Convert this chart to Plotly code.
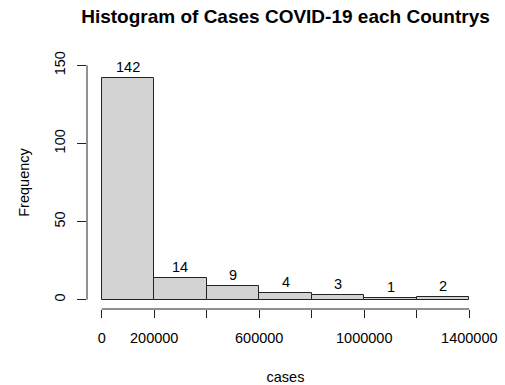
import plotly.graph_objects as go

# Data
bin_starts = [0, 200000, 400000, 600000, 800000, 1000000, 1200000]
bin_width = 200000
counts = [142, 14, 9, 4, 3, 1, 2]
x_tickvals = [0, 200000, 400000, 600000, 800000, 1000000, 1200000, 1400000]
x_ticktext = ["0", "200000", "", "600000", "", "1000000", "", "1400000"]
y_tickvals = [0, 50, 100, 150]
y_ticktext = ["0", "50", "100", "150"]

mids = [s + bin_width / 2 for s in bin_starts]
FONT = "Liberation Sans, Arial, Helvetica, sans-serif"
FS = 14.5
AX = "#222222"

fig = go.Figure()
fig.add_trace(go.Bar(
    x=mids, y=counts, width=[bin_width] * len(counts),
    marker=dict(color="#D3D3D3", line=dict(color="#222222", width=1)),
    hoverinfo="skip", showlegend=False,
))
for m, c in zip(mids, counts):
    fig.add_annotation(x=m, y=c, xref="x", yref="y", text=str(c), showarrow=False,
                       yanchor="bottom", xanchor="center", yshift=1,
                       font=dict(family=FONT, size=FS, color="#000"))

xr = [x_tickvals[0] - 0.04 * (x_tickvals[-1] - x_tickvals[0]),
      x_tickvals[-1] + 0.04 * (x_tickvals[-1] - x_tickvals[0])]
yr = [y_tickvals[0] - 0.04 * (y_tickvals[-1] - y_tickvals[0]),
      y_tickvals[-1] + 0.04 * (y_tickvals[-1] - y_tickvals[0])]

fig.update_layout(
    width=505, height=385,
    margin=dict(l=87, r=21, t=56, b=76),
    paper_bgcolor="white", plot_bgcolor="white",
    font=dict(family=FONT, size=FS, color="#000"),
    title=dict(text="<b>Histogram of Cases COVID-19 each Countrys</b>",
               x=0.5, xref="paper", y=1 - 16 / 385, yref="container",
               xanchor="center", yanchor="middle",
               font=dict(family=FONT, size=19, color="#000")),
    bargap=0,
    xaxis=dict(range=xr, tickmode="array", tickvals=x_tickvals, ticktext=x_ticktext,
               ticks="outside", ticklen=8, tickwidth=1, tickcolor=AX,
               showline=False, showgrid=False, zeroline=False, automargin=False,
               ticklabelstandoff=8, tickangle=0,
               title=dict(text="cases", standoff=26, font=dict(size=FS))),
    yaxis=dict(range=yr, tickmode="array", tickvals=y_tickvals, ticktext=y_ticktext,
               ticks="outside", ticklen=9, tickwidth=1, tickcolor=AX,
               showline=False, showgrid=False, zeroline=False, automargin=False,
               tickangle=-90, ticklabelstandoff=6,
               title=dict(text="Frequency", standoff=19, font=dict(size=FS))),
)

# R-style axis lines spanning first to last tick
fig.add_shape(type="line", xref="x", yref="paper",
              x0=x_tickvals[0], x1=x_tickvals[-1], y0=0, y1=0,
              line=dict(color=AX, width=1))
fig.add_shape(type="line", xref="paper", yref="y",
              x0=0, x1=0, y0=y_tickvals[0], y1=y_tickvals[-1],
              line=dict(color=AX, width=1))

fig.write_html("out.html", config={"displayModeBar": False},
               post_script="document.body.style.margin='0';")
